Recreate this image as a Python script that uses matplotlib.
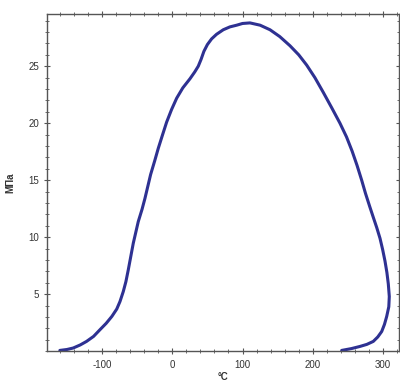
import matplotlib
matplotlib.use("Agg")
import matplotlib.pyplot as plt
from matplotlib.ticker import MultipleLocator

plt.rcParams["font.family"] = ["Liberation Sans", "DejaVu Sans"]
plt.rcParams["axes.unicode_minus"] = False

temp = [-160, -150, -141, -131, -122, -112, -103, -94, -86, -79, -74.4, -69.7,
        -66, -62.6, -55.5, -48.4, -43, -38.9, -30.8, -25, -19.9, -14, -8, -1,
        6.3, 15, 25.2, 32, 37, 41, 45, 50, 56, 63, 72.6, 82, 91.7, 100, 110.6,
        125, 139.1, 153, 167.5, 180, 191.3, 203, 215, 227, 238.7, 248, 256,
        263, 269.6, 275, 281, 286.1, 291, 295.7, 299.5, 302.8, 305.5, 307.5,
        308.9, 308.2, 305.2, 302, 298.1, 292.5, 286.1, 277, 267.2, 255, 241.1]
stress = [0.07, 0.15, 0.28, 0.55, 0.86, 1.3, 1.88, 2.45, 3.05, 3.7, 4.36, 5.24,
          6.1, 7.14, 9.47, 11.37, 12.45, 13.4, 15.5, 16.7, 17.8, 18.95, 20.1,
          21.2, 22.2, 23.1, 23.9, 24.5, 25.0, 25.6, 26.3, 26.9, 27.4, 27.8,
          28.2, 28.45, 28.6, 28.75, 28.8, 28.6, 28.2, 27.6, 26.8, 26.0, 25.1,
          24.0, 22.7, 21.35, 20.0, 18.8, 17.55, 16.3, 15.0, 13.85, 12.7, 11.75,
          10.85, 9.9, 8.9, 7.9, 6.9, 5.9, 4.8, 3.9, 3.05, 2.35, 1.73, 1.25,
          0.86, 0.6, 0.42, 0.23, 0.07]

fig = plt.figure(figsize=(4.0, 3.83), dpi=100)
ax = fig.add_axes([0.118, 0.083, 0.880, 0.881])

ax.plot(temp, stress, color="#2e3192", lw=2.2, solid_capstyle="round",
        solid_joinstyle="round")

ax.set_xlim(-178, 323)
ax.set_ylim(0, 29.6)
ax.set_xticks([-100, 0, 100, 200, 300])
ax.set_yticks([5, 10, 15, 20, 25])
ax.xaxis.set_minor_locator(MultipleLocator(20))
ax.yaxis.set_minor_locator(MultipleLocator(1))

for s in ax.spines.values():
    s.set_color("#555555")
    s.set_linewidth(1.0)

ax.tick_params(which="both", direction="inout", colors="#555555",
               labelcolor="#333333", labelsize=7, top=True, right=True)
ax.tick_params(which="major", length=5, width=0.8)
ax.tick_params(which="minor", length=3, width=0.6)

ax.set_xlabel("°C", fontsize=7, fontweight="bold", color="#333333", labelpad=2)
ax.set_ylabel("МПа", fontsize=7, fontweight="bold", color="#333333")
ax.yaxis.set_label_coords(-0.09, 0.5)

fig.savefig("out.png", dpi=100)
